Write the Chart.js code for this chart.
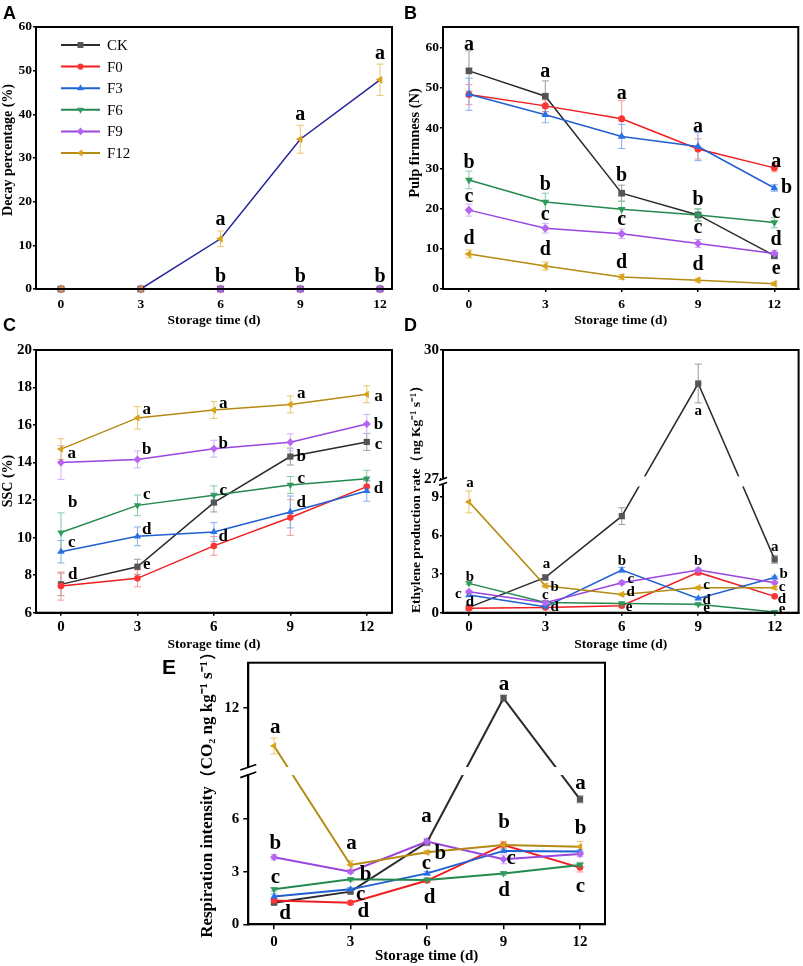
<!doctype html>
<html lang="en">
<head>
<meta charset="UTF-8" />
<title>Storage quality</title>
<style>
  body { margin: 0; background: #fff; }
  #fig { position: relative; width: 803px; height: 966px; overflow: hidden; background: #fff; }
  #fig canvas { position: absolute; }
  .tag { position: absolute; font: bold 18px "Liberation Sans", Arial, sans-serif; line-height: 18px; color: #000; }
</style>
</head>
<body>
<div id="fig">
  <canvas id="chartA" width="400" height="330" style="left:0px;top:0px"></canvas>
  <canvas id="chartB" width="403" height="330" style="left:400px;top:0px"></canvas>
  <canvas id="chartC" width="400" height="330" style="left:0px;top:330px"></canvas>
  <canvas id="chartD" width="403" height="330" style="left:400px;top:330px"></canvas>
  <canvas id="chartE" width="470" height="326" style="left:150px;top:640px"></canvas>
  <div class="tag" style="left:3px;top:4px">A</div>
  <div class="tag" style="left:404px;top:4px">B</div>
  <div class="tag" style="left:3px;top:316px">C</div>
  <div class="tag" style="left:404px;top:316px">D</div>
  <div class="tag" style="left:162px;top:656px;font-size:21px;line-height:21px">E</div>
</div>

<script src="https://cdn.jsdelivr.net/npm/chart.js"></script>
<script>
const SERIF = '"Liberation Serif", "Times New Roman", serif';

// storage days and treatments
const days = [0, 3, 6, 9, 12];
const seriesNames = ["CK", "F0", "F3", "F6", "F9", "F12"];

// A - decay percentage (%)
const decayMean = [
    [0, 0, 0, 0, 0],
    [0, 0, 0, 0, 0],
    [0, 0, 0, 0, 0],
    [0, 0, 0, 0, 0],
    [0, 0, 0, 0, 0],
    [0, 0, 11.5, 34.3, 47.9],
];
const decayErr = [
    [0, 0, 0, 0, 0],
    [0, 0, 0, 0, 0],
    [0, 0, 0, 0, 0],
    [0, 0, 0, 0, 0],
    [0, 0, 0, 0, 0],
    [0, 0, 1.8, 3.2, 3.6],
];
const decayLetters = [
    [6, 15.9, "a"], [9, 39.9, "a"], [12, 53.9, "a"],
    [6, 2.9, "b"], [9, 2.9, "b"], [12, 2.9, "b"],
];

// B - pulp firmness (N)
const firmMean = [
    [54.2, 47.9, 23.8, 18.4, 8.3],
    [48.3, 45.5, 42.3, 34.8, 30.1],
    [48.4, 43.3, 37.9, 35.4, 25.1],
    [27.1, 21.6, 19.8, 18.4, 16.5],
    [19.6, 15.1, 13.7, 11.3, 8.8],
    [8.7, 5.7, 3.0, 2.2, 1.3],
];
const firmErr = [
    [5, 3.8, 2, 1.5, 0.8],
    [2.5, 1.5, 4.5, 2.5, 1],
    [4, 2, 3, 3.5, 0.8],
    [2.2, 2.2, 2, 1.5, 1.3],
    [1.5, 1.2, 1.2, 1, 0.8],
    [1, 1, 0.6, 0.5, 0.4],
];
const firmLetters = [
    [0, 60.7, "a"], [0, 31.4, "b"], [0, 22.9, "c"], [0, 12.5, "d"],
    [3, 54.0, "a"], [3, 25.9, "b"], [3, 18.5, "c"], [3, 9.8, "d"],
    [6, 48.5, "a"], [6, 28.0, "b"], [6, 17.2, "c"], [6, 6.5, "d"],
    [9, 40.4, "a"], [9, 22.2, "b"], [9, 15.1, "c"], [9, 6.0, "d"],
    [12.07, 31.5, "a"], [12.48, 25.1, "b"], [12.07, 18.9, "c"], [12.07, 12.1, "d"], [12.07, 5.0, "e"],
];

// C - SSC (%)
const sscMean = [
    [7.51, 8.45, 11.87, 14.32, 15.1],
    [7.42, 7.83, 9.56, 11.07, 12.72],
    [9.25, 10.07, 10.3, 11.37, 12.49],
    [10.27, 11.72, 12.26, 12.81, 13.14],
    [14.0, 14.17, 14.74, 15.08, 16.06],
    [14.72, 16.38, 16.8, 17.1, 17.64],
];
const sscErr = [
    [0.6, 0.4, 0.5, 0.45, 0.45],
    [0.75, 0.45, 0.5, 0.95, 0.3],
    [0.6, 0.5, 0.5, 0.85, 0.55],
    [1.05, 0.55, 0.5, 0.45, 0.45],
    [0.9, 0.45, 0.45, 0.45, 0.5],
    [0.55, 0.6, 0.45, 0.45, 0.45],
];
const sscLetters = [
    [0.42, 14.49, "a"], [0.46, 11.87, "b"], [0.42, 9.73, "c"], [0.46, 8.01, "d"],
    [3.37, 16.84, "a"], [3.37, 14.67, "b"], [3.37, 12.31, "c"], [3.37, 10.44, "d"], [3.37, 8.54, "e"],
    [6.37, 17.16, "a"], [6.37, 15.03, "b"], [6.37, 12.5, "c"], [6.37, 10.05, "d"],
    [9.43, 17.66, "a"], [9.43, 14.32, "b"], [9.43, 13.16, "c"], [9.43, 11.87, "d"],
    [12.46, 17.51, "a"], [12.46, 16.0, "b"], [12.46, 14.94, "c"], [12.46, 12.63, "d"],
];

// D - ethylene production rate (broken axis 9 // 27)
const ethMean = [
    [0.41, 2.74, 7.5, 29.22, 4.14],
    [0.34, 0.4, 0.54, 3.13, 1.27],
    [1.37, 0.47, 3.31, 1.11, 2.74],
    [2.28, 0.8, 0.72, 0.65, 0.05],
    [1.63, 0.78, 2.33, 3.31, 2.33],
    [8.61, 2.09, 1.42, 1.94, 1.94],
];
const ethErr = [
    [0.1, 0.2, 0.65, 0.45, 0.3],
    [0.1, 0.1, 0.1, 0.2, 0.1],
    [0.1, 0.1, 0.2, 0.1, 0.1],
    [0.1, 0.1, 0.1, 0.1, 0.05],
    [0.1, 0.1, 0.15, 0.15, 0.1],
    [0.85, 0.15, 0.1, 0.1, 0.1],
];
const ethLetters = [
    [0.04, 10.05, "a"], [0.04, 2.8, "b"], [-0.42, 1.45, "c"], [0.04, 0.85, "d"],
    [3.04, 3.76, "a"], [3.36, 2.02, "b"], [3.0, 1.35, "c"], [3.36, 0.41, "d"],
    [6, 4.04, "b"], [6.35, 2.59, "c"], [6.35, 1.63, "d"], [6.29, 0.41, "e"],
    [9, 28.57, "a"], [9, 4.04, "b"], [9.33, 2.15, "c"], [9.33, 0.98, "d"], [9.33, 0.34, "e"],
    [12, 5.13, "a"], [12.35, 3.0, "b"], [12.29, 1.97, "c"], [12.29, 1.04, "d"], [12.29, 0.26, "e"],
];
const ethTicks = [0, 3, 6, 9, 27, 30];

// E - respiration intensity (broken axis)
const respMean = [
    [1.23, 1.86, 4.67, 12.57, 7.12],
    [1.35, 1.23, 2.49, 4.52, 3.23],
    [1.58, 1.99, 2.9, 4.18, 4.14],
    [1.99, 2.56, 2.53, 2.9, 3.38],
    [3.82, 3.0, 4.71, 3.7, 4.0],
    [9.85, 3.38, 4.1, 4.52, 4.42],
];
const respErr = [
    [0.1, 0.1, 0.2, 0.18, 0.2],
    [0.1, 0.1, 0.1, 0.2, 0.25],
    [0.15, 0.1, 0.1, 0.1, 0.1],
    [0.1, 0.1, 0.1, 0.1, 0.15],
    [0.15, 0.1, 0.2, 0.25, 0.15],
    [0.45, 0.25, 0.1, 0.2, 0.3],
];
const respLetters = [
    [0.05, 10.91, "a"], [0.05, 4.58, "b"], [0.05, 2.68, "c"], [0.43, 0.63, "d"],
    [3.04, 4.61, "a"], [3.59, 2.81, "b"], [3.4, 1.67, "c"], [3.5, 0.72, "d"],
    [5.98, 6.13, "a"], [6.52, 4.04, "b"], [5.98, 3.44, "c"], [6.1, 1.54, "d"],
    [9.02, 13.32, "a"], [9.02, 5.79, "b"], [9.3, 3.76, "c"], [9.02, 1.92, "d"],
    [12.02, 7.99, "a"], [12.02, 5.47, "b"], [12.02, 2.15, "c"],
];
const respTicks = [0, 3, 6, 12];

// look of the six treatments
const lineColors = ["#2b2b2b", "#f01e1e", "#1f5fcf", "#24894f", "#9a45e0", "#b48a12"];
const markerColors = ["#555555", "#ff3535", "#2a70e6", "#2e9b5c", "#b565f2", "#d8a21a"];
const errColors = ["#9c9c9c", "#f59a9a", "#86acee", "#86c9a4", "#d2aef4", "#e8c670"];
const pointStyles = ["rect", "circle", "triangle", "triangle", "rectRot", "triangle"];
const pointRotations = [0, 0, 0, 180, 0, -90];
const pointScale = [1.05, 0.78, 1, 1, 0.95, 1]; // circles look bigger than the rest

function drawMarker(ctx, i, r, x, y) {
    ctx.save();
    ctx.fillStyle = markerColors[i];
    ctx.translate(x, y);
    ctx.rotate((pointRotations[i] * Math.PI) / 180);
    ctx.beginPath();
    const s = pointStyles[i];
    r *= pointScale[i];
    if (s === "rect") {
        const h = r * Math.SQRT1_2;
        ctx.rect(-h, -h, 2 * h, 2 * h);
    } else if (s === "circle") {
        ctx.arc(0, 0, r, 0, Math.PI * 2);
    } else if (s === "rectRot") {
        ctx.moveTo(0, -r); ctx.lineTo(r, 0); ctx.lineTo(0, r); ctx.lineTo(-r, 0);
    } else {
        for (let k = 0; k < 3; k++) {
            const a = (k * 2 * Math.PI) / 3;
            ctx.lineTo(Math.sin(a) * r, -Math.cos(a) * r);
        }
    }
    ctx.closePath();
    ctx.fill();
    ctx.restore();
}

function makePanel(id, p) {
    const tf = p.tf || ((v) => v);
    const realTicks = p.yTicks;
    const dispTicks = realTicks.map(tf);

    const extras = {
        id: "extras_" + id,
        beforeDatasetsDraw(chart) {
            const { ctx, chartArea: a, scales: { x, y } } = chart;
            ctx.save();
            ctx.beginPath();
            ctx.rect(a.left, a.top - 20, a.width, a.height + 20);
            ctx.clip();
            ctx.lineWidth = 1;
            p.err.forEach((row, i) => row.forEach((e, j) => {
                if (!e) return;
                const m = p.mean[i][j];
                const px = x.getPixelForValue(days[j]);
                const y1 = y.getPixelForValue(tf(m + e));
                const y2 = y.getPixelForValue(tf(m - e));
                ctx.strokeStyle = errColors[i];
                ctx.beginPath();
                ctx.moveTo(px, y1); ctx.lineTo(px, y2);
                ctx.moveTo(px - 3.5, y1); ctx.lineTo(px + 3.5, y1);
                ctx.moveTo(px - 3.5, y2); ctx.lineTo(px + 3.5, y2);
                ctx.stroke();
            }));
            ctx.restore();
        },
        afterDatasetsDraw(chart) {
            const { ctx, chartArea: a, scales: { x, y } } = chart;
            if (p.breakAt !== undefined) {
                const yb = y.getPixelForValue(p.breakAt);
                ctx.fillStyle = "#fff";
                ctx.fillRect(a.left + 2, yb - p.gap / 2, a.width - 4, p.gap);
            }
            ctx.fillStyle = "#000";
            ctx.font = "bold " + p.letterSize + "px " + SERIF;
            ctx.textAlign = "center";
            ctx.textBaseline = "middle";
            p.letters.forEach(([d, v, t]) => {
                ctx.fillText(t, x.getPixelForValue(d), y.getPixelForValue(tf(v)));
            });
        },
        afterDraw(chart) {
            const { ctx, chartArea: a, scales: { y } } = chart;
            ctx.save();
            ctx.strokeStyle = "#000";
            ctx.lineWidth = 2;
            ctx.strokeRect(a.left, a.top, a.width, a.height);
            if (p.breakAt !== undefined) {
                const yb = y.getPixelForValue(p.breakAt);
                const w = p.breakW;
                ctx.fillStyle = "#fff";
                ctx.fillRect(a.left - 2, yb - 3, 4, 6);
                ctx.lineWidth = 1.6;
                ctx.beginPath();
                ctx.moveTo(a.left - w, yb - 1); ctx.lineTo(a.left + w, yb - 1 - w * 0.7);
                ctx.moveTo(a.left - w, yb + 1 + w * 0.7); ctx.lineTo(a.left + w, yb + 1);
                ctx.stroke();
            }
            // y axis title
            ctx.translate(p.yTitlePos[0], p.yTitlePos[1]);
            ctx.rotate(-Math.PI / 2);
            ctx.fillStyle = "#000";
            ctx.font = "bold " + p.yTitleSize + "px " + SERIF;
            ctx.textAlign = "center";
            ctx.textBaseline = "middle";
            ctx.fillText(p.yTitle, 0, 0);
            ctx.restore();

            if (p.legend) {
                ctx.save();
                ctx.font = "15px " + SERIF;
                ctx.textBaseline = "middle";
                ctx.textAlign = "left";
                seriesNames.forEach((name, i) => {
                    const ly = a.top + 18 + i * 21.6;
                    ctx.strokeStyle = lineColors[i];
                    ctx.lineWidth = 2;
                    ctx.beginPath();
                    ctx.moveTo(a.left + 25, ly); ctx.lineTo(a.left + 64, ly);
                    ctx.stroke();
                    drawMarker(ctx, i, 4, a.left + 44.5, ly);
                    ctx.fillStyle = "#000";
                    ctx.fillText(name, a.left + 71, ly + 1);
                });
                ctx.restore();
            }
        },
    };

    const datasets = seriesNames.map((name, i) => ({
        label: name,
        data: days.map((d, j) => ({ x: d, y: tf(p.mean[i][j]) })),
        order: seriesNames.length - i, // later treatments sit on top
        borderColor: (p.lineColors || lineColors)[i],
        backgroundColor: markerColors[i],
        pointBackgroundColor: markerColors[i],
        pointBorderColor: markerColors[i],
        pointBorderWidth: 0,
        pointStyle: pointStyles[i],
        pointRotation: pointRotations[i],
        pointRadius: p.r * pointScale[i],
        borderWidth: p.lw,
        tension: 0,
        clip: false,
    }));

    const tickFont = { family: SERIF, weight: "bold", size: p.tickSize };

    return new Chart(document.getElementById(id), {
        type: "line",
        data: { datasets },
        plugins: [extras],
        options: {
            responsive: false,
            animation: false,
            events: [],
            layout: { padding: p.pad },
            plugins: { legend: { display: false }, tooltip: { enabled: false } },
            scales: {
                x: {
                    type: "linear",
                    min: p.xRange[0],
                    max: p.xRange[1],
                    afterBuildTicks: (s) => { s.ticks = days.map((v) => ({ value: v })); },
                    afterFit: (s) => { s.height = p.xH; },
                    grid: { drawOnChartArea: false, drawTicks: true, tickLength: p.tl, color: "#000", lineWidth: 1.5 },
                    border: { display: true, color: "#000", width: 2 },
                    ticks: { color: "#000", font: tickFont, padding: p.xPad, maxRotation: 0, autoSkip: false },
                    title: {
                        display: true,
                        text: "Storage time (d)",
                        color: "#000",
                        font: { family: SERIF, weight: "bold", size: p.xTitleSize },
                        padding: { top: 0, bottom: p.xTitlePad },
                    },
                },
                y: {
                    type: "linear",
                    min: dispTicks[0],
                    max: p.yMax,
                    afterBuildTicks: (s) => { s.ticks = dispTicks.map((v) => ({ value: v })); },
                    afterFit: (s) => { s.width = p.yW; },
                    grid: { drawOnChartArea: false, drawTicks: true, tickLength: p.tl, color: "#000", lineWidth: 1.5 },
                    border: { display: true, color: "#000", width: 2 },
                    ticks: {
                        color: "#000",
                        font: tickFont,
                        padding: p.yPad,
                        autoSkip: false,
                        callback: (v) => {
                            const k = dispTicks.findIndex((d) => Math.abs(d - v) < 1e-6);
                            return k >= 0 ? String(realTicks[k]) : "";
                        },
                    },
                },
            },
        },
    });
}

makePanel("chartA", {
    mean: decayMean, err: decayErr, letters: decayLetters, letterSize: 20,
    lineColors: ["#2b2b2b", "#f01e1e", "#1f5fcf", "#24894f", "#9a45e0", "#23239a"],
    yTicks: [0, 10, 20, 30, 40, 50, 60], yMax: 60,
    xRange: [-0.94, 12.45],
    pad: { left: 0, top: 27, right: 8, bottom: 0 }, yW: 36, xH: 41,
    tl: 3, xPad: 4, yPad: 1, tickSize: 13.5, r: 4.5, lw: 1.5,
    xTitleSize: 13.5, xTitlePad: 1.5,
    yTitle: "Decay percentage (%)", yTitleSize: 14, yTitlePos: [8.5, 150],
    legend: true,
});

makePanel("chartB", {
    mean: firmMean, err: firmErr, letters: firmLetters, letterSize: 20,
    yTicks: [0, 10, 20, 30, 40, 50, 60], yMax: 65.1,
    xRange: [-1.02, 12.94],
    pad: { left: 0, top: 27, right: 4, bottom: 0 }, yW: 43, xH: 41,
    tl: 3, xPad: 4, yPad: 1, tickSize: 13.5, r: 4.5, lw: 1.5,
    xTitleSize: 13.5, xTitlePad: 1.5,
    yTitle: "Pulp firmness (N)", yTitleSize: 14.5, yTitlePos: [15, 143],
});

makePanel("chartC", {
    mean: sscMean, err: sscErr, letters: sscLetters, letterSize: 17,
    yTicks: [6, 8, 10, 12, 14, 16, 18, 20], yMax: 20,
    xRange: [-0.98, 12.99],
    pad: { left: 0, top: 20, right: 8, bottom: 0 }, yW: 36, xH: 47.3,
    tl: 3, xPad: 2, yPad: 1, tickSize: 15, r: 4.2, lw: 1.5,
    xTitleSize: 13.5, xTitlePad: 7,
    yTitle: "SSC (%)", yTitleSize: 14, yTitlePos: [8.5, 151],
});

makePanel("chartD", {
    mean: ethMean, err: ethErr, letters: ethLetters, letterSize: 15,
    tf: (v) => (v <= 10.2 ? v : 10.39 + (v - 27) * 3.34),
    breakAt: 10.2, gap: 10, breakW: 4,
    yTicks: ethTicks, yMax: 20.41,
    xRange: [-1.02, 12.94],
    pad: { left: 0, top: 20, right: 4, bottom: 0 }, yW: 43, xH: 47.3,
    tl: 3, xPad: 2, yPad: 1, tickSize: 15, r: 4.2, lw: 1.5,
    xTitleSize: 13.5, xTitlePad: 7,
    yTitle: "Ethylene production rate（ng Kg⁻¹ s⁻¹）", yTitleSize: 13.5, yTitlePos: [16.7, 166],
});

makePanel("chartE", {
    mean: respMean, err: respErr, letters: respLetters, letterSize: 21,
    tf: (v) => (v <= 8.7 ? v : v + 0.31),
    breakAt: 8.73, gap: 8, breakW: 8,
    yTicks: respTicks, yMax: 14.9,
    xRange: [-1.01, 12.98],
    pad: { left: 0, top: 22.7, right: 15, bottom: 0 }, yW: 98.3, xH: 41.7,
    tl: 5, xPad: 4, yPad: 4, tickSize: 15, r: 4.2, lw: 2,
    xTitleSize: 15, xTitlePad: 1,
    yTitle: "Respiration intensity（CO₂ ng kg⁻¹ s⁻¹）", yTitleSize: 17, yTitlePos: [58, 151],
});
</script>
</body>
</html>
